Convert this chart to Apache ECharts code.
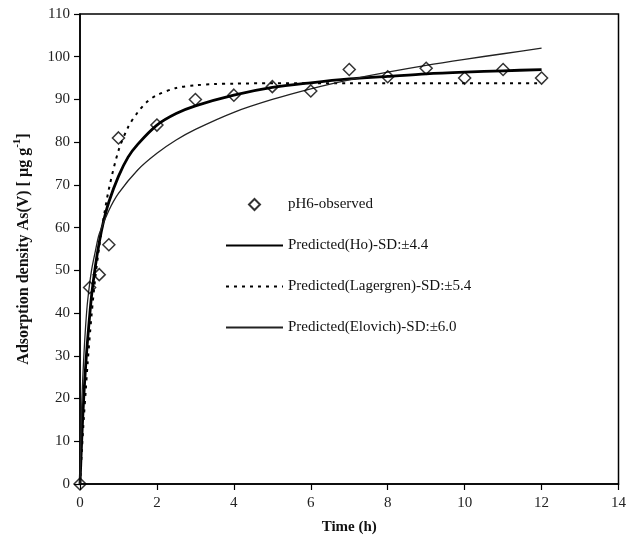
<!DOCTYPE html>
<html>
<head>
<meta charset="utf-8">
<script src="https://cdn.jsdelivr.net/npm/echarts@6/dist/echarts.min.js"></script>
<style>html,body{margin:0;padding:0;background:#fff}#c{width:629px;height:543px}</style>
</head>
<body>
<div id="c"></div>
<script>
// Observed data
const obsTime = [0, 0.25, 0.5, 0.75, 1, 2, 3, 4, 5, 6, 7, 8, 9, 10, 11, 12];
const obsQ    = [0, 46, 49, 56, 81, 84, 90, 91, 93, 92, 97, 95.3, 97.3, 95, 97, 95];
// Predicted (Ho)
const hoTime = [0, 0.05, 0.1, 0.15, 0.2, 0.3, 0.4, 0.5, 0.6, 0.75, 1, 1.25, 1.5, 2, 2.5, 3, 4, 5, 6, 7, 8, 9, 10, 11, 12];
const hoQ    = [0, 11.5, 20.7, 28, 34, 44, 51, 56.5, 61, 66, 72, 76.5, 79.5, 84, 86.7, 88.5, 91, 92.8, 93.9, 94.8, 95.4, 96, 96.4, 96.7, 97];
// Predicted (Lagergren)
const lgTime = [0, 0.05, 0.1, 0.15, 0.2, 0.3, 0.4, 0.5, 0.6, 0.75, 1, 1.25, 1.5, 1.75, 2, 2.5, 3, 3.5, 4, 5, 6, 7, 8, 9, 10, 11, 12];
const lgQ    = [0, 8, 15.5, 22, 28.5, 39.5, 48.5, 55.5, 61.5, 69, 78, 83.5, 87, 89.5, 91, 92.7, 93.3, 93.6, 93.7, 93.8, 93.8, 93.8, 93.8, 93.8, 93.8, 93.8, 93.8];
// Predicted (Elovich)
const elTime = [0, 0.02, 0.05, 0.1, 0.15, 0.2, 0.3, 0.4, 0.5, 0.75, 1, 1.5, 2, 2.5, 3, 4, 5, 6, 7, 8, 9, 10, 11, 12];
const elQ    = [0, 10, 20, 30, 37.5, 43, 50, 54.5, 58.5, 64, 68, 73.5, 77.4, 80.5, 83, 87, 90, 92.5, 94.6, 96.4, 98, 99.4, 100.7, 102];

const names = ['pH6-observed', 'Predicted(Ho)-SD:\u00b14.4', 'Predicted(Lagergren)-SD:\u00b15.4', 'Predicted(Elovich)-SD:\u00b16.0'];
const xTicks = [0, 2, 4, 6, 8, 10, 12, 14];
const yTicks = [0, 10, 20, 30, 40, 50, 60, 70, 80, 90, 100, 110];

const zip = (a, b) => a.map((v, i) => [v, b[i]]);
const FONT = '"Liberation Serif", "Times New Roman", serif';
const hidden = {opacity: 0, color: 'transparent', borderWidth: 0};

const chart = echarts.init(document.getElementById('c'), null, {renderer: 'canvas'});
chart.setOption({
  backgroundColor: '#fff',
  animation: false,
  textStyle: {fontFamily: FONT},
  grid: {left: 80, right: 9, top: 14, bottom: 59, show: true, borderColor: '#000', borderWidth: 1.5, backgroundColor: 'transparent'},
  legend: {
    orient: 'vertical', left: 220, top: 192, itemWidth: 57, itemHeight: 11, itemGap: 26,
    textStyle: {fontFamily: FONT, fontSize: 15, color: '#111'},
    data: [
      {name: names[0], icon: 'path://M5,0 L10,5 L5,10 L0,5 Z'},
      {name: names[1], itemStyle: hidden},
      {name: names[2], itemStyle: hidden},
      {name: names[3], itemStyle: hidden}
    ]
  },
  xAxis: {
    type: 'value', min: xTicks[0], max: xTicks[xTicks.length - 1], interval: 2,
    name: 'Time (h)', nameLocation: 'middle', nameGap: 36,
    nameTextStyle: {fontFamily: FONT, fontSize: 15, fontWeight: 'bold', color: '#111'},
    axisLine: {show: true, lineStyle: {color: '#000', width: 1.5}},
    axisTick: {show: true, length: 6, lineStyle: {color: '#000', width: 1.2}},
    axisLabel: {fontFamily: FONT, fontSize: 15, color: '#222', margin: 12},
    splitLine: {show: false}
  },
  yAxis: {
    type: 'value', min: yTicks[0], max: yTicks[yTicks.length - 1], interval: 10,
    name: '{a|Adsorption density As(V) [ \u00b5g g}{s|-1}{a|]}', nameLocation: 'middle', nameGap: 48,
    nameTextStyle: {
      fontFamily: FONT, fontSize: 16, fontWeight: 'bold', color: '#111',
      rich: {
        a: {fontFamily: FONT, fontSize: 16, fontWeight: 'bold', color: '#111', lineHeight: 20, verticalAlign: 'bottom'},
        s: {fontFamily: FONT, fontSize: 11, fontWeight: 'bold', color: '#111', lineHeight: 20, verticalAlign: 'top'}
      }
    },
    axisLine: {show: true, lineStyle: {color: '#000', width: 1.5}},
    axisTick: {show: true, length: 6, lineStyle: {color: '#000', width: 1.2}},
    axisLabel: {fontFamily: FONT, fontSize: 15, color: '#222', margin: 10},
    splitLine: {show: false}
  },
  series: [
    {
      name: names[0], type: 'scatter', data: zip(obsTime, obsQ), symbol: 'diamond', symbolSize: 12, z: 5,
      itemStyle: {color: 'rgba(255,255,255,0)', borderColor: '#000', borderWidth: 1.5}
    },
    {
      name: names[1], type: 'line', data: zip(hoTime, hoQ), smooth: 0.3, symbol: 'none',
      lineStyle: {color: '#000', width: 2.8}, itemStyle: {color: '#000'}
    },
    {
      name: names[2], type: 'line', data: zip(lgTime, lgQ), smooth: 0.3, symbol: 'none',
      lineStyle: {color: '#000', width: 2, type: [3, 5]}, itemStyle: {color: '#000'}
    },
    {
      name: names[3], type: 'line', data: zip(elTime, elQ), smooth: 0.3, symbol: 'none',
      lineStyle: {color: '#222', width: 1.3}, itemStyle: {color: '#222'}
    }
  ]
});
</script>
</body>
</html>
